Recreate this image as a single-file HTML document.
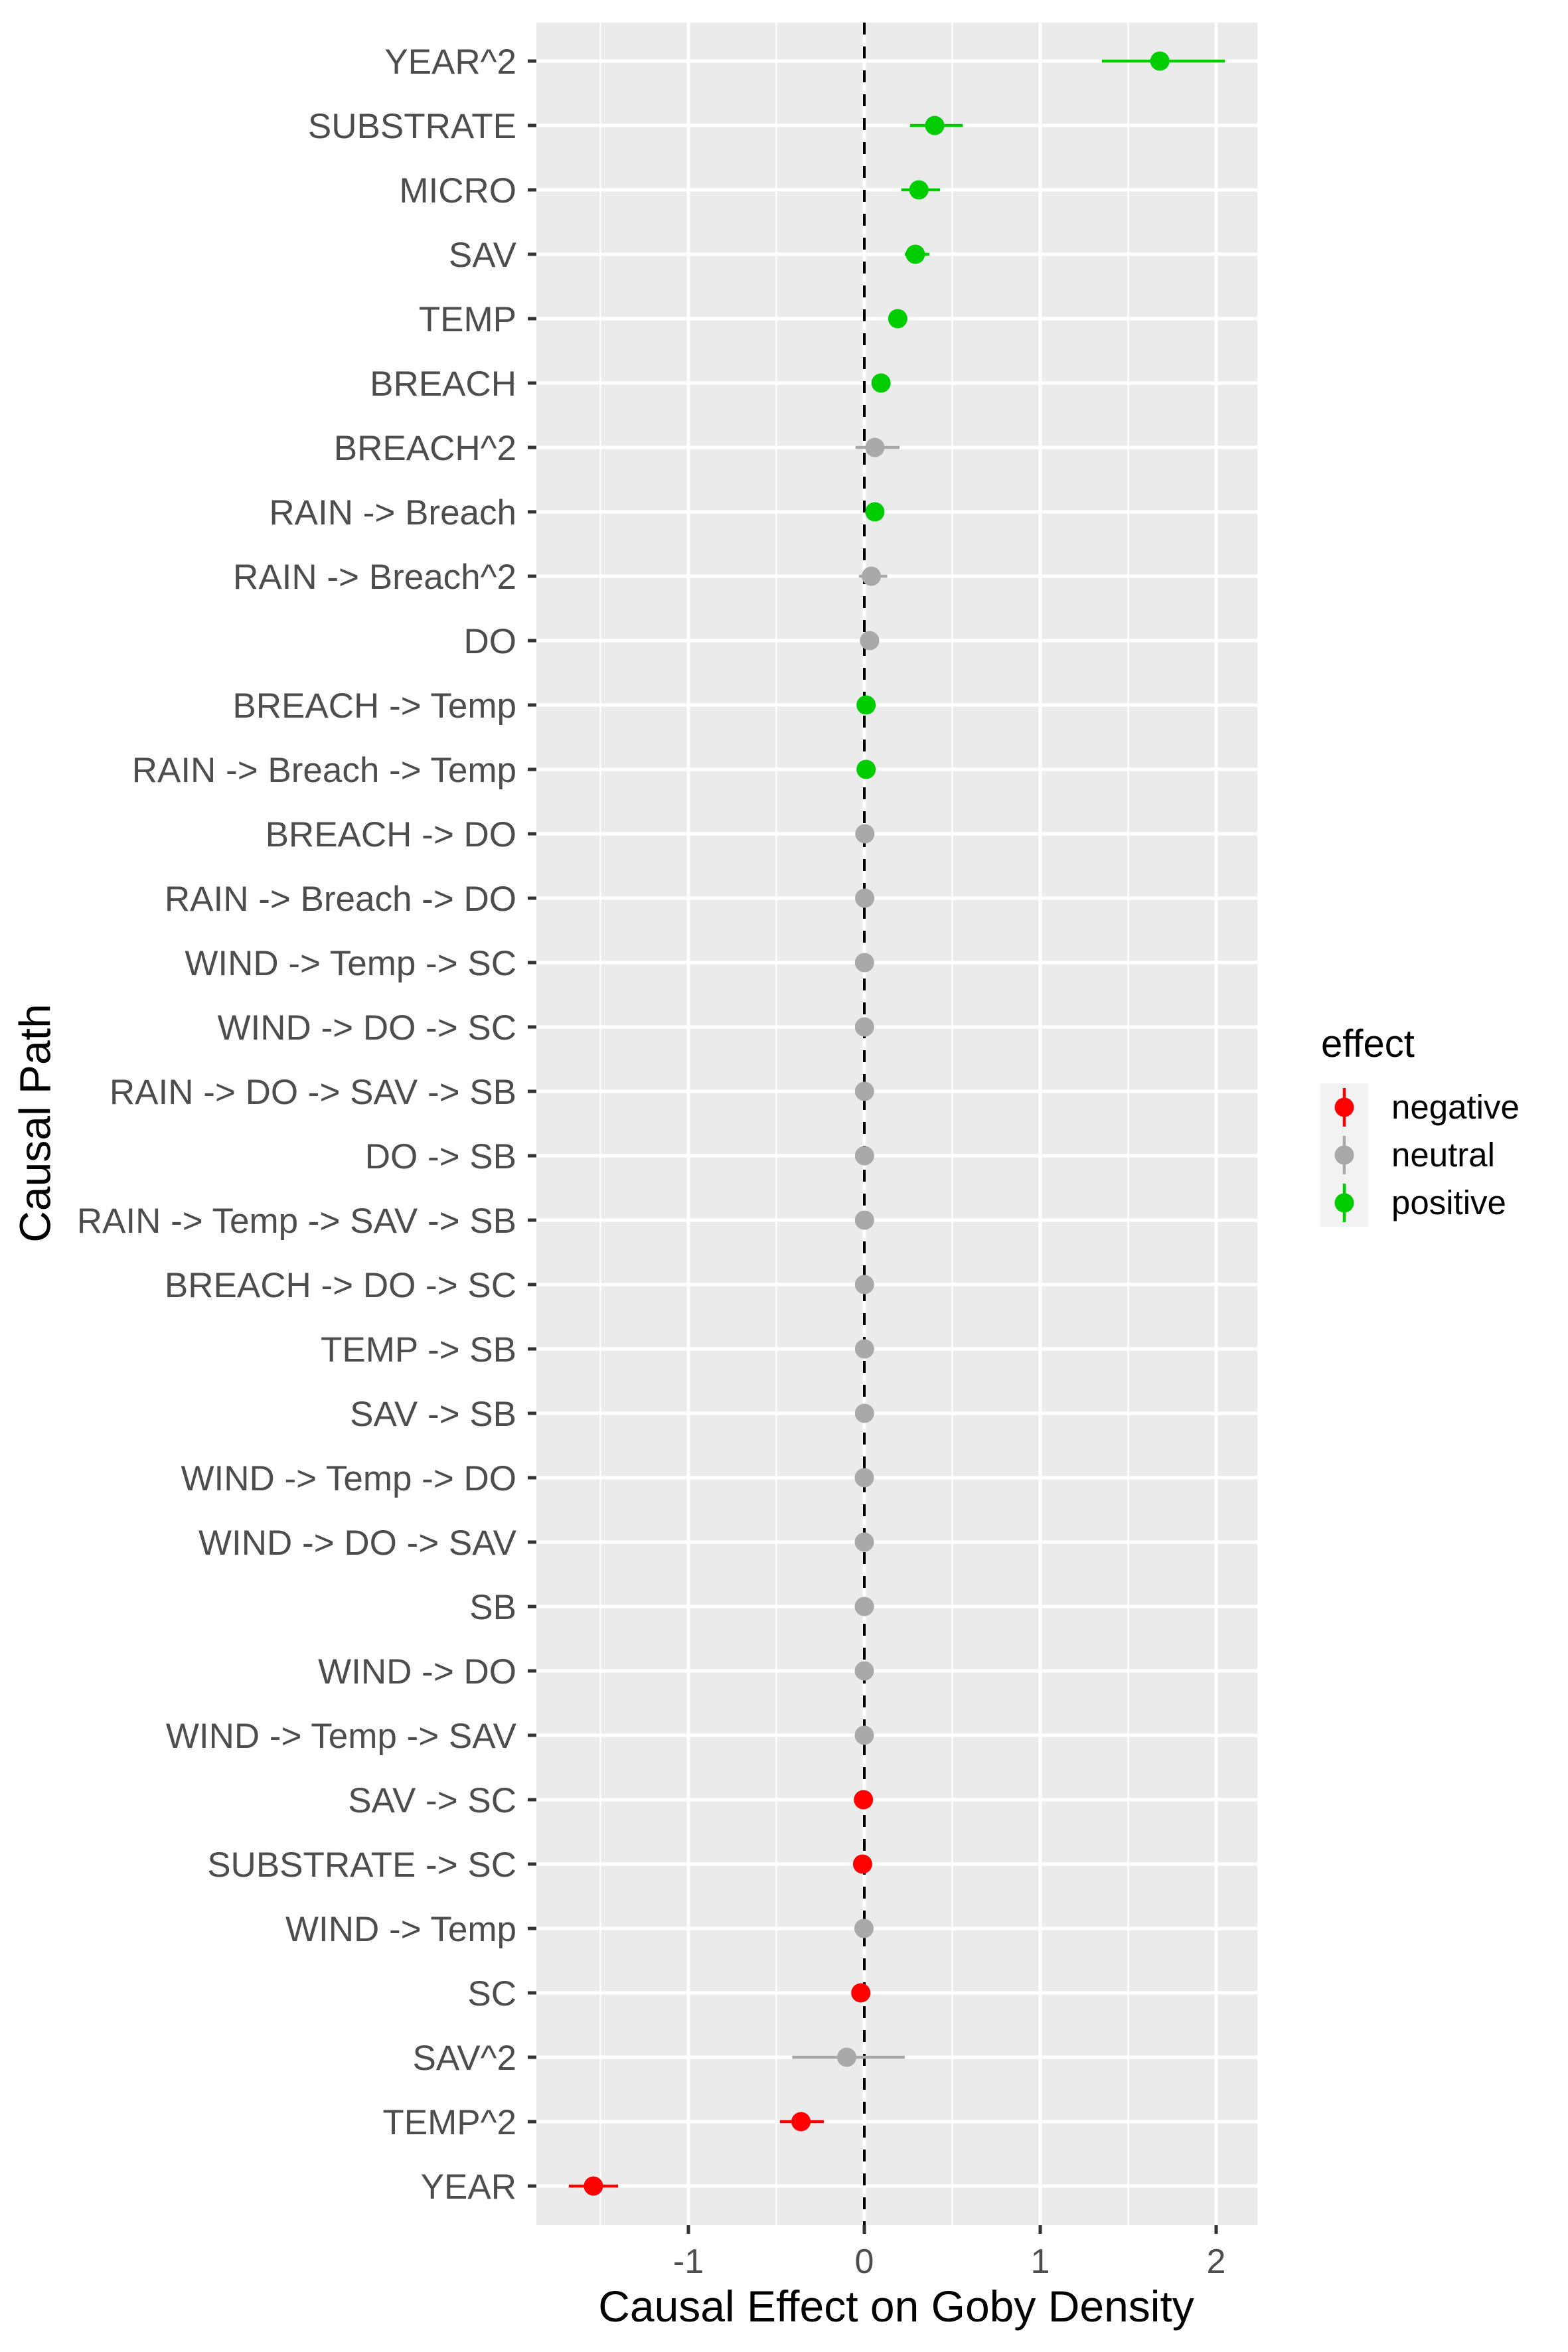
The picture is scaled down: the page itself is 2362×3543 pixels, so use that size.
<!DOCTYPE html>
<html><head><meta charset="utf-8"><style>
html,body{margin:0;padding:0;background:#fff;}
svg{display:block;font-family:"Liberation Sans",Arial,sans-serif;}
</style></head><body>
<svg id="chart" width="2362" height="3543" viewBox="0 0 2362 3543" xmlns="http://www.w3.org/2000/svg">
<rect x="0" y="0" width="2362" height="3543" fill="#fff"/>
<g id="panel"></g>
<text x="58" y="1692" transform="rotate(-90 58 1692)" text-anchor="middle" dominant-baseline="middle" font-size="66" fill="#000">Causal Path</text>
<text x="1350" y="3497" text-anchor="middle" font-size="66" fill="#000">Causal Effect on Goby Density</text>
<g id="legend"></g>
</svg>
<script>
const categories = ["YEAR^2","SUBSTRATE","MICRO","SAV","TEMP","BREACH","BREACH^2","RAIN -> Breach","RAIN -> Breach^2","DO","BREACH -> Temp","RAIN -> Breach -> Temp","BREACH -> DO","RAIN -> Breach -> DO","WIND -> Temp -> SC","WIND -> DO -> SC","RAIN -> DO -> SAV -> SB","DO -> SB","RAIN -> Temp -> SAV -> SB","BREACH -> DO -> SC","TEMP -> SB","SAV -> SB","WIND -> Temp -> DO","WIND -> DO -> SAV","SB","WIND -> DO","WIND -> Temp -> SAV","SAV -> SC","SUBSTRATE -> SC","WIND -> Temp","SC","SAV^2","TEMP^2","YEAR"];
const estimates = [1.68,0.40,0.31,0.29,0.19,0.095,0.06,0.06,0.04,0.03,0.01,0.01,0.003,0.002,0.001,0.001,0.001,0.001,0.001,0.001,0.001,0.001,0.0,0.0,0.0,0.0,0.0,-0.005,-0.01,-0.002,-0.02,-0.10,-0.36,-1.54];
const lowers = [1.35,0.26,0.21,0.23,0.17,0.07,-0.05,0.04,-0.03,0.01,0.0,0.0,-0.005,-0.005,-0.005,-0.005,-0.005,-0.005,-0.005,-0.005,-0.005,-0.005,-0.005,-0.005,-0.005,-0.005,-0.01,-0.02,-0.03,-0.01,-0.04,-0.41,-0.48,-1.68];
const uppers = [2.05,0.56,0.43,0.37,0.21,0.12,0.20,0.08,0.13,0.05,0.02,0.02,0.01,0.01,0.008,0.008,0.008,0.008,0.008,0.008,0.008,0.008,0.005,0.005,0.005,0.005,0.01,0.01,0.01,0.005,0.0,0.23,-0.23,-1.40];
const effects = ["positive","positive","positive","positive","positive","positive","neutral","positive","neutral","neutral","positive","positive","neutral","neutral","neutral","neutral","neutral","neutral","neutral","neutral","neutral","neutral","neutral","neutral","neutral","neutral","neutral","negative","negative","neutral","negative","neutral","negative","negative"];
const xTicks = [-1,0,1,2];
const xMinor = [-1.5,-0.5,0.5,1.5];
const legendLabels = ["negative","neutral","positive"];

const colors = {negative:"#ff0000", neutral:"#a9a9a9", positive:"#00cd00"};
const NS = "http://www.w3.org/2000/svg";
const P = {l:808, r:1894, t:34, b:3352};
const x = v => 1302 + v*265;
const y = i => 92 + i*97.0;
function mk(tag, attrs, parent){const e=document.createElementNS(NS,tag);for(const k in attrs)e.setAttribute(k,attrs[k]);parent.appendChild(e);return e;}
const panel = document.getElementById('panel');
const svg = document.getElementById('chart');

let bg = mk('rect',{x:P.l,y:P.t,width:P.r-P.l,height:P.b-P.t,fill:'#ebebeb'},panel);



xMinor.forEach(v=>{
  let g=mk('line',{x1:x(v),x2:x(v),y1:P.t,y2:P.b,stroke:'#fff','stroke-width':2.5},panel);
  
  
});
xTicks.forEach(v=>{
  let g=mk('line',{x1:x(v),x2:x(v),y1:P.t,y2:P.b,stroke:'#fff','stroke-width':5},panel);
  
  
  let t=mk('line',{x1:x(v),x2:x(v),y1:P.b,y2:P.b+13,stroke:'#333','stroke-width':5},svg);
  
  
  let l=mk('text',{x:x(v),y:3424,'text-anchor':'middle','font-size':52,fill:'#4d4d4d'},svg);
  l.textContent = v<0 ? '-'+Math.abs(v) : String(v);
  
  
});
categories.forEach((c,i)=>{
  let g=mk('line',{x1:P.l,x2:P.r,y1:y(i),y2:y(i),stroke:'#fff','stroke-width':5},panel);
  
  
  let t=mk('line',{x1:P.l-13,x2:P.l,y1:y(i),y2:y(i),stroke:'#333','stroke-width':5},svg);
  
  
  let l=mk('text',{x:P.l-30,y:y(i)+19,'text-anchor':'end','font-size':53,fill:'#4d4d4d'},svg);
  l.textContent=c;
  
  
});
let z=mk('line',{x1:x(0),x2:x(0),y1:P.t,y2:P.b,stroke:'#000','stroke-width':4,'stroke-dasharray':'18 18'},panel);


categories.forEach((c,i)=>{
  const col=colors[effects[i]];
  let e=mk('line',{x1:x(lowers[i]),x2:x(uppers[i]),y1:y(i),y2:y(i),stroke:col,'stroke-width':4.5},panel);
  
  
  let p=mk('circle',{cx:x(estimates[i]),cy:y(i),r:14.5,fill:col},panel);
  
  
});

const lg=document.getElementById('legend');
let lt=mk('text',{x:1990,y:1592,'font-size':58,fill:'#000'},lg);
lt.textContent='effect';


legendLabels.forEach((lab,k)=>{
  const cy=1668+k*72, col=colors[lab];
  let b=mk('rect',{x:1989,y:cy-36,width:72,height:72,fill:'#f2f2f2'},lg);
  
  
  let ln=mk('line',{x1:2025,x2:2025,y1:cy-29,y2:cy+29,stroke:col,'stroke-width':4.5},lg);
  
  
  let c=mk('circle',{cx:2025,cy:cy,r:14.5,fill:col},lg);
  
  
  let t=mk('text',{x:2096,y:cy+17,'font-size':51,fill:'#000'},lg);
  t.textContent=lab;
  
  
});
</script>
</body></html>
